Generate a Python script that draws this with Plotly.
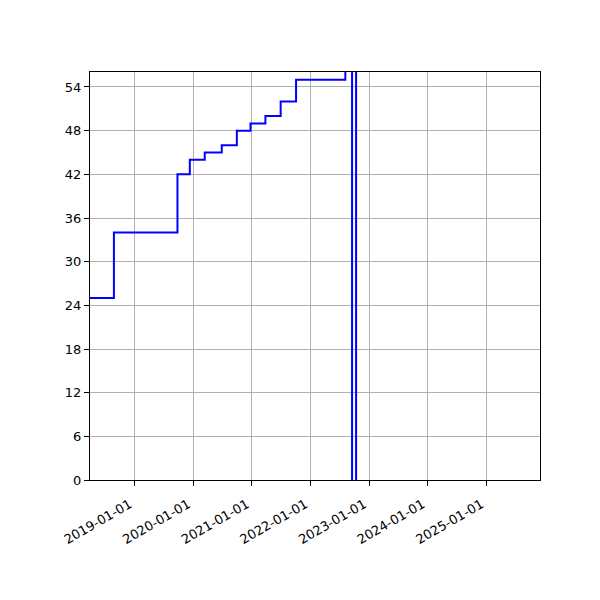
import plotly.graph_objects as go

# step data (last values run off the top / bottom of the axes)
dates = ["2018-03-29", "2018-08-25", "2019-09-25", "2019-12-11", "2020-03-13",
         "2020-06-27", "2020-09-29", "2020-12-23", "2021-03-26", "2021-06-29",
         "2021-10-03", "2022-08-06", "2022-09-17", "2022-10-12"]
counts = [25, 34, 42, 44, 45, 46, 48, 49, 50, 52, 55, 62, -4, 62]

x_ticks = ["2019-01-01", "2020-01-01", "2021-01-01", "2022-01-01",
           "2023-01-01", "2024-01-01", "2025-01-01"]
y_ticks = [0, 6, 12, 18, 24, 30, 36, 42, 48, 54]

fig = go.Figure()
fig.add_trace(go.Scatter(x=dates, y=counts, mode="lines",
                         line=dict(color="#0000ff", width=2, shape="hv")))

axis_style = dict(showline=True, linecolor="black", linewidth=1, mirror=True,
                  ticks="outside", ticklen=5, tickcolor="black",
                  showgrid=True, gridcolor="#b0b0b0", gridwidth=1,
                  zeroline=False, tickfont=dict(family="DejaVu Sans", size=13, color="black"))

fig.update_xaxes(type="date", range=["2018-03-29", "2025-12-01"],
                 tickvals=x_ticks, ticktext=x_ticks, tickangle=-30,
                 ticklabelshift=-5, ticklabelstandoff=6, **axis_style)
fig.update_yaxes(range=[0, 56.06], tickvals=y_ticks, **axis_style)

# page body adds an 8px offset, so margins are shifted to compensate
fig.update_layout(width=600, height=600, showlegend=False,
                  paper_bgcolor="white", plot_bgcolor="white",
                  margin=dict(l=82, r=68, t=64, b=128))

fig.write_html("out.html")
